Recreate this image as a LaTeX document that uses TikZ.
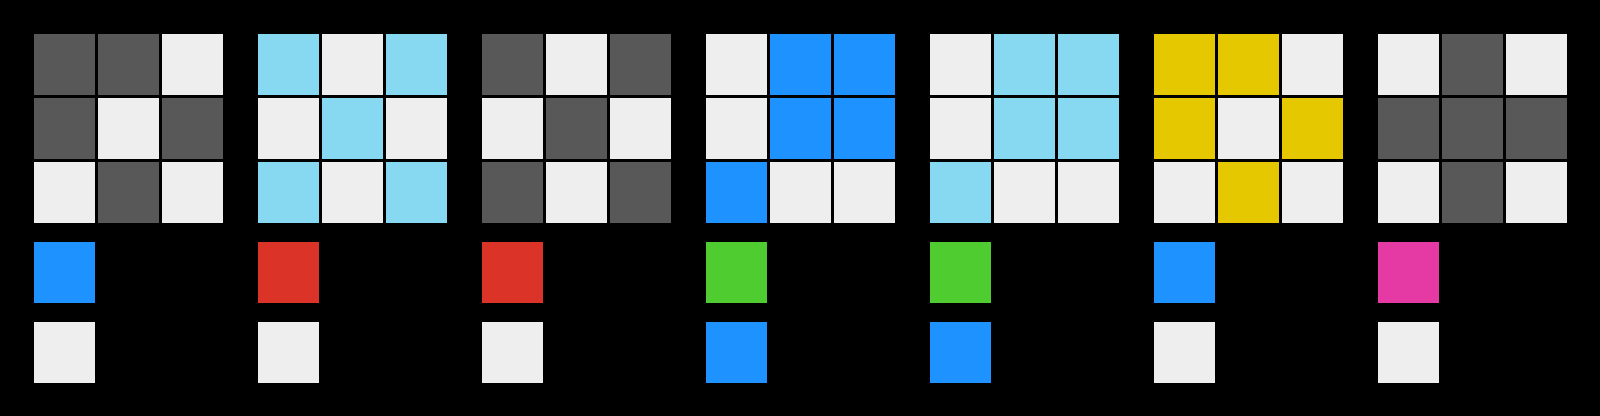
\documentclass[tikz,border=0pt]{standalone}
\definecolor{cD}{HTML}{585858}
\definecolor{cL}{HTML}{EEEEEE}
\definecolor{cB}{HTML}{1E93FF}
\definecolor{cR}{HTML}{DC3328}
\definecolor{cC}{HTML}{87D8F1}
\definecolor{cG}{HTML}{4FCC30}
\definecolor{cY}{HTML}{E6C800}
\definecolor{cM}{HTML}{E53AA3}
\begin{document}
\begin{tikzpicture}[x=0.5pt,y=-0.5pt]
\fill[black] (0,0) rectangle (1600,416);
\useasboundingbox (0,0) rectangle (1600,416);
% grids: g / nine cell colours row by row
\foreach \g/\a/\b/\c/\d/\e/\f/\h/\i/\j/\s/\t in {
 0/D/D/L/D/L/D/L/D/L/B/L,
 1/C/L/C/L/C/L/C/L/C/R/L,
 2/D/L/D/L/D/L/D/L/D/R/L,
 3/L/B/B/L/B/B/B/L/L/G/B,
 4/L/C/C/L/C/C/C/L/L/G/B,
 5/Y/Y/L/Y/L/Y/L/Y/L/B/L,
 6/L/D/L/D/D/D/L/D/L/M/L}{
  \pgfmathsetmacro{\gx}{34+224*\g}
  \foreach \col [count=\k from 0] in {\a,\b,\c,\d,\e,\f,\h,\i,\j}{
    \pgfmathtruncatemacro{\r}{int(\k/3)}
    \pgfmathtruncatemacro{\cc}{mod(\k,3)}
    \fill[c\col] ({\gx+64*\cc},{34+64*\r}) rectangle ++(61,61);
  }
  \fill[c\s] (\gx,242) rectangle ++(61,61);
  \fill[c\t] (\gx,322) rectangle ++(61,61);
}
\end{tikzpicture}
\end{document}
